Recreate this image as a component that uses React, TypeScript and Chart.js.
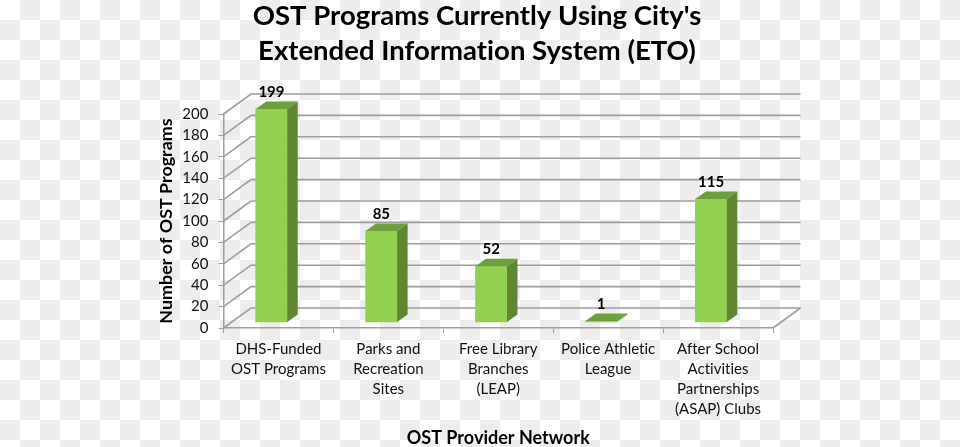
import React, { useEffect, useRef } from "react";
import { Chart, registerables } from "chart.js";

Chart.register(...registerables);

const categories = [
  ["DHS-Funded", "OST Programs"],
  ["Parks and", "Recreation", "Sites"],
  ["Free Library", "Branches", "(LEAP)"],
  ["Police Athletic", "League"],
  ["After School", "Activities", "Partnerships", "(ASAP) Clubs"],
];
const programCounts = [199, 85, 52, 1, 115];
const titleLines = ["OST Programs Currently Using City's", "Extended Information System (ETO)"];
const yAxisTitle = "Number of OST Programs";
const xAxisTitle = "OST Provider Network";

const FONT = "Lato";
const GRID = "#9e9e9e";
const WALL = { dx: 27.5, dy: -20 };
const BAR_DEPTH = { dx: 10.5, dy: -7.5 };
const BAR_SHIFT = { x: 7 / 110, y: 5.6 };

const threeD = {
  id: "threeD",
  beforeDraw(chart: any) {
    chart.ctx.letterSpacing = "0.01px";
  },
  beforeDatasetsDraw(chart: any) {
    const { ctx, chartArea, scales } = chart;
    ctx.save();
    ctx.strokeStyle = GRID;
    ctx.lineWidth = 1.6;
    scales.y.ticks.forEach((t: any) => {
      const y = scales.y.getPixelForValue(t.value);
      ctx.beginPath();
      ctx.moveTo(chartArea.left, y);
      ctx.lineTo(chartArea.left + WALL.dx, y + WALL.dy);
      ctx.lineTo(chartArea.right + WALL.dx, y + WALL.dy);
      ctx.stroke();
    });
    ctx.beginPath();
    ctx.moveTo(chartArea.right, chartArea.bottom);
    ctx.lineTo(chartArea.right + WALL.dx, chartArea.bottom + WALL.dy);
    ctx.stroke();
    ctx.restore();
  },
  afterDatasetsDraw(chart: any) {
    const { ctx } = chart;
    const meta = chart.getDatasetMeta(0);
    ctx.save();
    meta.data.forEach((bar: any, i: number) => {
      const { x, y, base, width } = bar.getProps(["x", "y", "base", "width"], true);
      const l = x - width / 2;
      const r = x + width / 2;
      ctx.fillStyle = "#5f8631";
      ctx.beginPath();
      ctx.moveTo(r, y);
      ctx.lineTo(r + BAR_DEPTH.dx, y + BAR_DEPTH.dy);
      ctx.lineTo(r + BAR_DEPTH.dx, base + BAR_DEPTH.dy);
      ctx.lineTo(r, base);
      ctx.closePath();
      ctx.fill();
      ctx.fillStyle = "#6f9f3b";
      ctx.beginPath();
      ctx.moveTo(l, y);
      ctx.lineTo(l + BAR_DEPTH.dx, y + BAR_DEPTH.dy);
      ctx.lineTo(r + BAR_DEPTH.dx, y + BAR_DEPTH.dy);
      ctx.lineTo(r, y);
      ctx.closePath();
      ctx.fill();
      ctx.fillStyle = "#000";
      ctx.font = `bold 15px ${FONT}`;
      ctx.textAlign = "center";
      ctx.textBaseline = "middle";
      ctx.fillText(String(programCounts[i]), x, y - 17);
    });
    ctx.restore();
  },
};

export default function App() {
  const ref = useRef<HTMLCanvasElement>(null);
  useEffect(() => {
    const chart = new Chart(ref.current as HTMLCanvasElement, {
      type: "bar",
      plugins: [threeD],
      data: {
        labels: categories as any,
        datasets: [
          {
            data: programCounts.map((y, x) => ({ x, y })) as any,
            xAxisID: "xb",
            yAxisID: "yb",
            backgroundColor: "#92d050",
            barThickness: 31.5,
            clip: false as any,
          },
        ],
      },
      options: {
        animation: false,
        responsive: false,
        layout: { autoPadding: false, padding: { right: 6 } },
        plugins: {
          legend: { display: false },
          tooltip: { enabled: false },
          title: {
            display: true,
            text: titleLines,
            color: "#000",
            font: { family: FONT, size: 27.5, weight: "bold", lineHeight: "35px" as any },
            padding: { top: -1.5, bottom: 45.5 },
          },
        },
        scales: {
          x: {
            type: "category",
            position: "bottom",
            offset: true,
            afterFit(s: any) {
              s.height = 119;
            },
            grid: { offset: true, drawOnChartArea: false, drawTicks: true, tickLength: 5, color: GRID },
            border: { color: GRID, width: 1.5 },
            ticks: {
              color: "#111",
              maxRotation: 0,
              autoSkip: false,
              padding: 6,
              font: { family: FONT, size: 15, lineHeight: "20px" as any },
            },
            title: {
              display: true,
              text: xAxisTitle,
              color: "#000",
              font: { family: FONT, size: 18, weight: "bold", lineHeight: "18px" as any },
              padding: { top: 0, bottom: 0 },
            },
          },
          y: {
            type: "linear",
            position: "left",
            min: 0,
            max: 200,
            afterFit(s: any) {
              s.width = 223.5;
            },
            grid: { drawOnChartArea: false, drawTicks: true, tickLength: 5, color: GRID },
            border: { color: GRID, width: 1.5 },
            ticks: {
              stepSize: 20,
              color: "#111",
              padding: 10,
              font: { family: FONT, size: 15 },
            },
            title: {
              display: true,
              text: yAxisTitle,
              color: "#000",
              font: { family: FONT, size: 17.9, weight: "bold", lineHeight: "18px" as any },
              padding: { top: 157, bottom: 0 },
            },
          },
          xb: {
            type: "linear",
            display: false,
            offset: false,
            grid: { offset: false },
            min: -0.5 + BAR_SHIFT.x,
            max: 4.5 + BAR_SHIFT.x,
          },
          yb: {
            type: "linear",
            position: "right",
            min: -BAR_SHIFT.y,
            max: 200 - BAR_SHIFT.y,
            afterFit(s: any) {
              s.width = 181;
            },
            grid: { display: false },
            border: { display: false },
            ticks: { display: false },
          },
        },
      },
    } as any);
    return () => chart.destroy();
  }, []);

  return (
    <div
      style={{
        position: "fixed",
        left: 0,
        top: 0,
        width: 960,
        height: 447,
        background: "repeating-conic-gradient(#ededed 0 25%, #fff 0 50%) 0 0 / 40px 40px",
      }}
    >
      <canvas ref={ref} width={960} height={447} style={{ display: "block" }} />
    </div>
  );
}
